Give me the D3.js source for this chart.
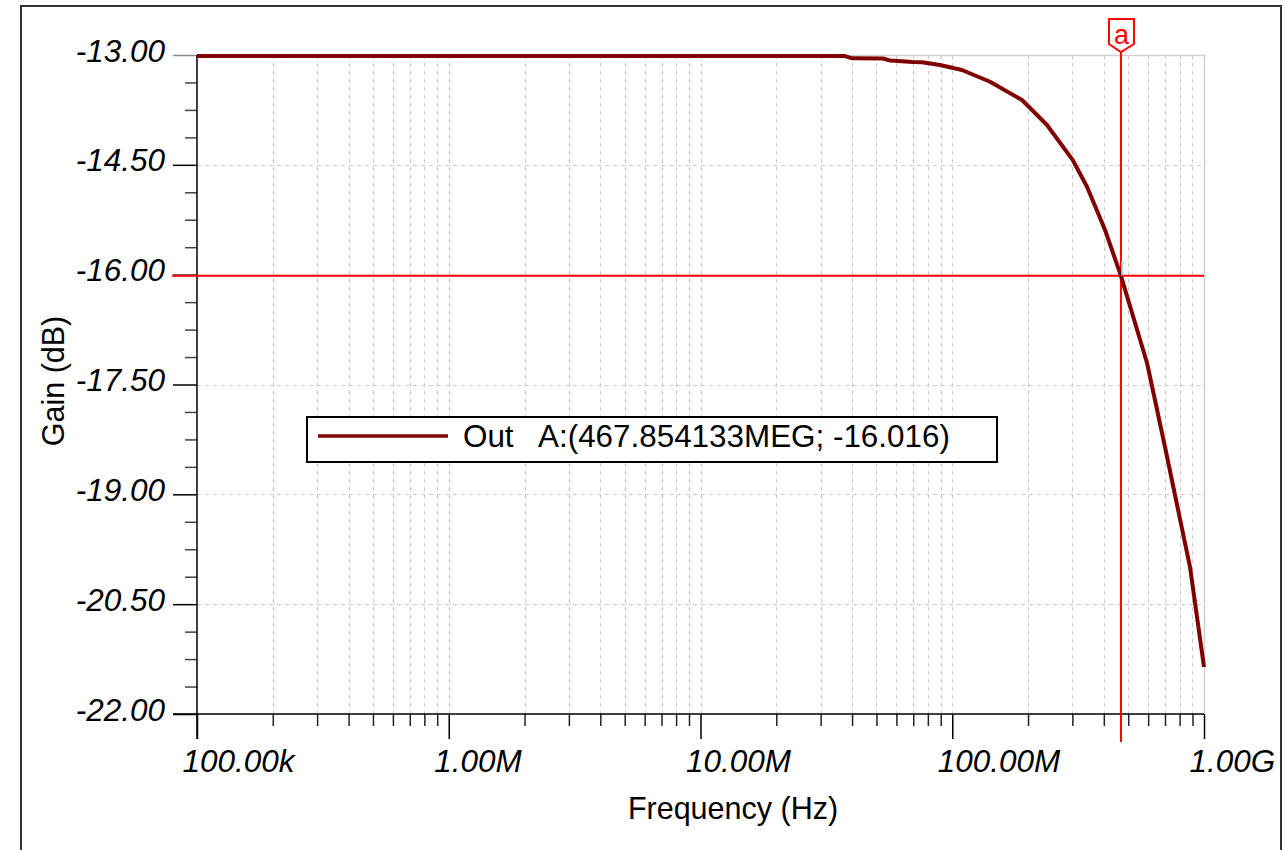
<!DOCTYPE html>
<html>
<head>
<meta charset="utf-8">
<script src="https://cdn.jsdelivr.net/npm/d3@7"></script>
<style>
  body { margin: 0; background: #fff; }
  svg { display: block; font-family: "Liberation Sans", Arial, sans-serif; }
</style>
</head>
<body>
<svg width="1285" height="850"></svg>
<script>
// simulated AC response
const freqHz = [1e5, 1e6, 1e7, 3e7, 37.5e6, 40.0e6, 53.1e6, 56.6e6, 69.9e6, 75.9e6, 89.4e6,
                109.3e6, 141.3e6, 189.3e6, 237.9e6, 301.7e6, 343e6, 404.6e6, 467.854133e6,
                594e6, 700e6, 767e6, 880e6, 1e9];
const gainDb = [-13.015, -13.015, -13.015, -13.015, -13.015, -13.045, -13.048, -13.075, -13.096, -13.10, -13.137,
                -13.205, -13.365, -13.615, -13.956, -14.44, -14.80, -15.39, -16.016,
                -17.206, -18.354, -19.009, -19.993, -21.359];

const yTicks = [-13, -14.5, -16, -17.5, -19, -20.5, -22];
const yTickLabels = ["-13.00", "-14.50", "-16.00", "-17.50", "-19.00", "-20.50", "-22.00"];
const xTicks = [1e5, 1e6, 1e7, 1e8, 1e9];
const xTickLabels = ["100.00k", "1.00M", "10.00M", "100.00M", "1.00G"];

const cursorFreq = 467.854133e6;
const cursorGain = -16.016;
const legendText = "Out   A:(467.854133MEG; -16.016)";

const svg = d3.select("svg");
const pLeft = 197, pRight = 1204, pTop = 55, pBottom = 714;

const x = d3.scaleLog().domain([1e5, 1e9]).range([pLeft, pRight]);
const y = d3.scaleLinear().domain([-22, -13]).range([pBottom, pTop]);

// minor positions
let xMinor = [];
for (let d = 1e5; d < 1e9; d *= 10) {
    for (let k = 2; k <= 9; k++) xMinor.push(d * k);
}
let yMinor = [];
for (let i = 0; i < yTicks.length - 1; i++) {
    for (let k = 1; k <= 3; k++) yMinor.push(yTicks[i] - 0.375 * k);
}

// outer frame
svg.append("rect")
    .attr("x", 21).attr("y", 6)
    .attr("width", 1260).attr("height", 900)
    .attr("fill", "none")
    .attr("stroke", "#333")
    .attr("stroke-width", 2);

// grid
const grid = svg.append("g");
grid.selectAll(".vg")
    .data(xMinor.concat(xTicks.slice(1, -1)))
    .enter().append("line")
    .attr("x1", d => Math.round(x(d)) + 0.5).attr("x2", d => Math.round(x(d)) + 0.5)
    .attr("y1", pTop).attr("y2", pBottom)
    .attr("stroke", "#c8c8c8").attr("stroke-dasharray", "4,4");
grid.selectAll(".hg")
    .data(yTicks.slice(1, -1))
    .enter().append("line")
    .attr("x1", pLeft).attr("x2", pRight)
    .attr("y1", d => Math.round(y(d)) + 0.5).attr("y2", d => Math.round(y(d)) + 0.5)
    .attr("stroke", "#c8c8c8").attr("stroke-dasharray", "4,4");

// light border top / right
svg.append("path")
    .attr("d", `M${pLeft},${pTop + 0.5}H${pRight + 0.5}V${pBottom}`)
    .attr("fill", "none").attr("stroke", "#cfcfcf").attr("stroke-width", 1.5);

// y axis
const yAxis = svg.append("g")
    .attr("transform", `translate(${pLeft},0)`)
    .call(d3.axisLeft(y).tickValues(yTicks).tickSize(24).tickPadding(8)
        .tickFormat((d, i) => yTickLabels[i]));
const yMinorAxis = svg.append("g")
    .attr("transform", `translate(${pLeft},0)`)
    .call(d3.axisLeft(y).tickValues(yMinor).tickSize(12).tickFormat(""));

// x axis
const xAxis = svg.append("g")
    .attr("transform", `translate(0,${pBottom})`)
    .call(d3.axisBottom(x).tickValues(xTicks).tickSize(25)
        .tickFormat((d, i) => xTickLabels[i]));
const xMinorAxis = svg.append("g")
    .attr("transform", `translate(0,${pBottom})`)
    .call(d3.axisBottom(x).tickValues(xMinor).tickSize(12).tickFormat(""));

[yAxis, yMinorAxis, xAxis, xMinorAxis].forEach(g => g.select(".domain").remove());
yAxis.selectAll(".tick line").attr("stroke", "#000").attr("stroke-width", 1.5);
yMinorAxis.selectAll(".tick line").attr("stroke", "#444").attr("stroke-width", 1.5);
xAxis.selectAll(".tick line").attr("stroke", "#000").attr("stroke-width", 1.5);
xMinorAxis.selectAll(".tick line").attr("stroke", "#222").attr("stroke-width", 1.5);
yAxis.selectAll(".tick").filter(d => d === -13).select("line").attr("stroke", "#888");

yAxis.selectAll(".tick text")
    .attr("font-size", 31.5).attr("font-style", "italic")
    .attr("fill", "#000").attr("dy", "0.19em")
    .attr("font-family", "Liberation Sans, Arial, sans-serif");
xAxis.selectAll(".tick text")
    .attr("font-size", 31.5).attr("font-style", "italic")
    .attr("fill", "#000").attr("text-anchor", "start")
    .attr("x", -15).attr("y", 58).attr("dy", null)
    .attr("font-family", "Liberation Sans, Arial, sans-serif");

// axis lines
svg.append("line")
    .attr("x1", pLeft).attr("x2", pLeft)
    .attr("y1", pTop).attr("y2", pBottom + 25)
    .attr("stroke", "#000").attr("stroke-width", 1.5);
svg.append("line")
    .attr("x1", pLeft - 24).attr("x2", pRight)
    .attr("y1", pBottom).attr("y2", pBottom)
    .attr("stroke", "#000").attr("stroke-width", 1.5);

// axis titles
svg.append("text")
    .attr("x", 733).attr("y", 819)
    .attr("text-anchor", "middle")
    .attr("font-size", 30.5)
    .text("Frequency (Hz)");
svg.append("text")
    .attr("transform", "translate(64,381) rotate(-90)")
    .attr("text-anchor", "middle")
    .attr("font-size", 30.5)
    .text("Gain (dB)");

// cursor lines
const cx = x(cursorFreq), cy = y(cursorGain);
svg.append("line")
    .attr("x1", pLeft - 25).attr("x2", pRight)
    .attr("y1", cy).attr("y2", cy)
    .attr("stroke", "#ff0000").attr("stroke-width", 2);
svg.append("line")
    .attr("x1", cx).attr("x2", cx)
    .attr("y1", 52).attr("y2", pBottom + 28)
    .attr("stroke", "#ff0000").attr("stroke-width", 2);

// curve
const line = d3.line()
    .x((d, i) => x(freqHz[i]))
    .y(d => y(d));
svg.append("path")
    .datum(gainDb)
    .attr("d", line)
    .attr("fill", "none")
    .attr("stroke", "#800000")
    .attr("stroke-width", 4)
    .attr("stroke-linejoin", "round");

// little cursor mark
svg.append("line")
    .attr("x1", cx + 1).attr("x2", cx + 1)
    .attr("y1", cy - 14).attr("y2", cy)
    .attr("stroke", "#5fe8e8").attr("stroke-width", 1.5);

// cursor flag
svg.append("path")
    .attr("d", `M${cx - 12},19H${cx + 13}V44L${cx},52L${cx - 12},44Z`)
    .attr("fill", "#fff")
    .attr("stroke", "#ff0000")
    .attr("stroke-width", 2);
svg.append("text")
    .attr("x", cx + 0.5).attr("y", 44)
    .attr("text-anchor", "middle")
    .attr("font-size", 27)
    .attr("fill", "#ff0000")
    .text("a");

// legend
svg.append("rect")
    .attr("x", 307).attr("y", 417)
    .attr("width", 690).attr("height", 45)
    .attr("fill", "#fff")
    .attr("stroke", "#000")
    .attr("stroke-width", 2);
svg.append("line")
    .attr("x1", 318).attr("x2", 448)
    .attr("y1", 436).attr("y2", 436)
    .attr("stroke", "#800000").attr("stroke-width", 3.5);
svg.append("text")
    .attr("x", 463).attr("y", 447)
    .attr("font-size", 31.4)
    .attr("xml:space", "preserve")
    .style("white-space", "pre")
    .text(legendText);
</script>
</body>
</html>
